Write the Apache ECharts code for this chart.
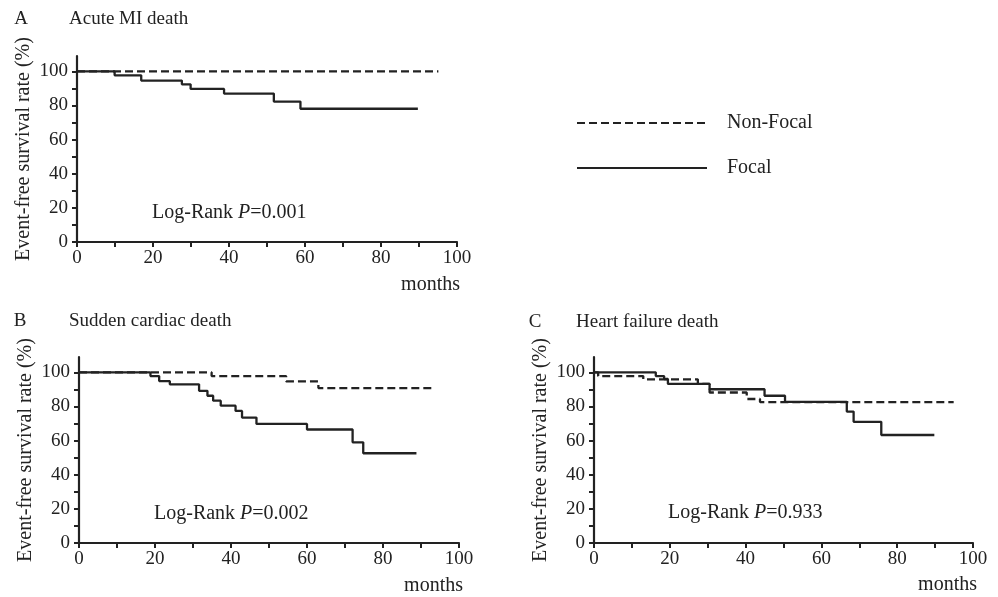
<!DOCTYPE html>
<html>
<head>
<meta charset="utf-8">
<script src="https://cdn.jsdelivr.net/npm/echarts@6/dist/echarts.min.js"></script>
<style>
  html, body { margin: 0; padding: 0; background: #fff; }
  #chart { width: 998px; height: 597px; }
</style>
</head>
<body>
<div id="chart"></div>
<script>
// Kaplan-Meier step data (months, survival %)
const aFocalT = [0, 9.9, 16.9, 27.6, 29.9, 38.7, 51.8, 58.8, 89.7]
const aFocalS = [100, 97.7, 94.6, 92.4, 89.7, 87.0, 82.3, 78.1, 78.1]
const aNonT = [0, 95.1]
const aNonS = [100, 100]

const bFocalT = [0, 18.8, 21.1, 23.9, 31.6, 33.8, 35.3, 37.3, 41.2, 42.9, 46.7, 60.0, 72.0, 74.8, 88.8]
const bFocalS = [100, 97.8, 94.9, 93.0, 89.2, 86.3, 83.4, 80.5, 77.4, 73.5, 69.8, 66.5, 59.0, 52.6, 52.6]
const bNonT = [0, 34.9, 54.5, 63.0, 93.5]
const bNonS = [100, 97.8, 94.7, 90.8, 90.8]

const cFocalT = [0, 16.3, 18.5, 19.5, 30.5, 45.0, 50.4, 66.7, 68.5, 75.8, 89.8]
const cFocalS = [100, 97.8, 96.1, 93.2, 90.1, 86.3, 82.7, 77.0, 71.0, 63.3, 63.3]
const cNonT = [0, 1.1, 13.0, 27.4, 30.5, 40.3, 43.8, 94.9]
const cNonS = [100, 97.8, 95.9, 93.2, 88.2, 84.4, 82.6, 82.6]

const xTicks = [0, 10, 20, 30, 40, 50, 60, 70, 80, 90, 100]
const xLabels = [0, 20, 40, 60, 80, 100]
const yTicks = [0, 10, 20, 30, 40, 50, 60, 70, 80, 90, 100]
const yLabels = [0, 20, 40, 60, 80, 100]

const panelLetters = ['A', 'B', 'C']
const panelTitles = ['Acute MI death', 'Sudden cardiac death', 'Heart failure death']
const pValues = ['0.001', '0.002', '0.933']

const ink = '#222'
const serif = '"Liberation Serif", "Times New Roman", serif'
const fs = 19   // tick labels, titles
const fsText = 20 // annotations

const zip = (t, s) => t.map((v, i) => [v, s[i]])

const grids = [
  { left: 77, top: 56, width: 380, height: 186 },
  { left: 79, top: 357, width: 380, height: 186 },
  { left: 594, top: 357, width: 379, height: 186 }
].map(g => Object.assign(g, { containLabel: false, outerBoundsMode: 'none' }))

const axisLine = { show: true, lineStyle: { color: ink, width: 2.2 } }

const xAxes = grids.map((g, i) => ({
  type: 'value', gridIndex: i, min: 0, max: 100,
  axisLine: axisLine,
  axisTick: { show: true, length: 5, lineStyle: { color: ink, width: 2 }, customValues: xTicks },
  axisLabel: { customValues: xLabels, color: ink, fontFamily: serif, fontSize: fs, margin: 7 },
  splitLine: { show: false }
}))

const yAxes = grids.map((g, i) => ({
  type: 'value', gridIndex: i, min: 0, max: 109,
  name: 'Event-free survival rate (%)',
  nameLocation: 'middle', nameRotate: 90, nameGap: 43,
  nameTextStyle: { color: ink, fontFamily: serif, fontSize: fsText },
  axisLine: axisLine,
  axisTick: { show: true, length: 5, lineStyle: { color: ink, width: 2 }, customValues: yTicks },
  axisLabel: { customValues: yLabels, color: ink, fontFamily: serif, fontSize: fs, margin: 9 },
  splitLine: { show: false }
}))

const dashed = { color: ink, width: 2.3, type: [8, 4] }
const solid = { color: ink, width: 2.3, type: 'solid' }

const curves = [[aNonT, aNonS, aFocalT, aFocalS], [bNonT, bNonS, bFocalT, bFocalS], [cNonT, cNonS, cFocalT, cFocalS]]
const series = []
curves.forEach((c, i) => {
  series.push({ name: 'Non-Focal', type: 'line', step: 'end', xAxisIndex: i, yAxisIndex: i,
    data: zip(c[0], c[1]), symbol: 'none', lineStyle: dashed, itemStyle: { color: ink }, silent: true, z: 3 })
  series.push({ name: 'Focal', type: 'line', step: 'end', xAxisIndex: i, yAxisIndex: i,
    data: zip(c[2], c[3]), symbol: 'none', lineStyle: solid, itemStyle: { color: ink }, silent: true, z: 2 })
})

const txt = (x, y, text, align, size, extra) => ({
  type: 'text', x: x, y: y,
  style: Object.assign({ text: text, fill: ink, font: size + 'px ' + serif, align: align || 'left', verticalAlign: 'middle' }, extra || {})
})

const letterPos = [[21, 19], [20, 321], [535, 322]]
const titlePos = [[69, 19], [69, 321], [576, 322]]
const pPos = [[152, 213], [154, 514], [668, 513]]
const monthsPos = [[460, 285], [463, 586], [977, 585]]

const graphic = []
panelLetters.forEach((l, i) => {
  graphic.push(txt(letterPos[i][0], letterPos[i][1], l, 'center', fs))
  graphic.push(txt(titlePos[i][0], titlePos[i][1], panelTitles[i], 'left', fs))
  graphic.push(txt(pPos[i][0], pPos[i][1], '{n|Log-Rank }{i|P}{n|=' + pValues[i] + '}', 'left', fsText, {
    rich: {
      n: { fontFamily: serif, fontSize: fsText, fill: ink },
      i: { fontFamily: serif, fontSize: fsText, fontStyle: 'italic', fill: ink }
    }
  }))
  graphic.push(txt(monthsPos[i][0], monthsPos[i][1], 'months', 'right', fsText))
})

const chart = echarts.init(document.getElementById('chart'))
chart.setOption({
  animation: false,
  backgroundColor: '#fff',
  grid: grids,
  xAxis: xAxes,
  yAxis: yAxes,
  legend: {
    data: ['Non-Focal', 'Focal'],
    orient: 'vertical', left: 571, top: 108,
    itemWidth: 130, itemHeight: 14, itemGap: 25,
    itemStyle: { opacity: 0 },
    textStyle: { color: ink, fontFamily: serif, fontSize: fsText, padding: [0, 0, 0, 15] },
    selectedMode: false
  },
  series: series,
  graphic: graphic
})
</script>
</body>
</html>
